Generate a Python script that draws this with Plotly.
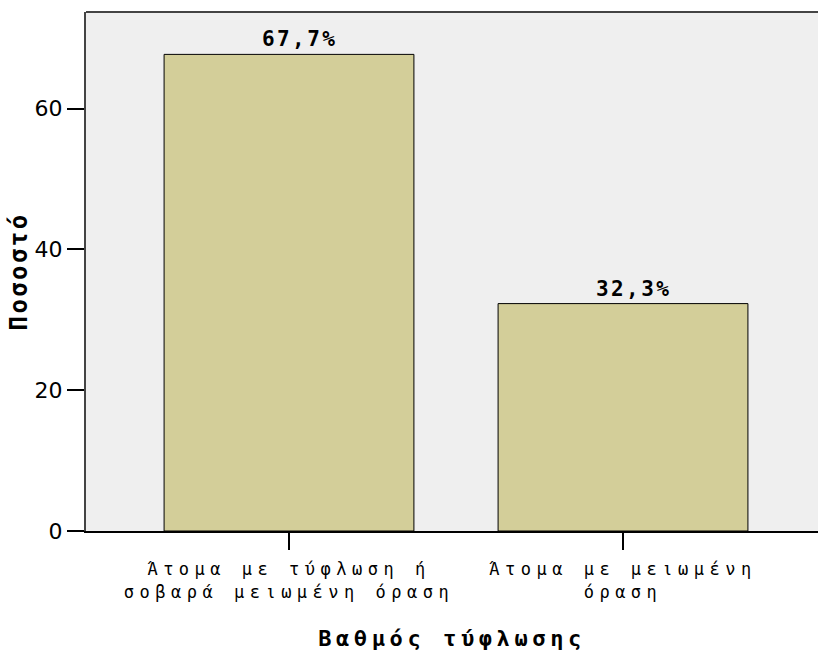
import plotly.graph_objects as go

# Percentages by degree of blindness
categories = ["Άτομα με τύφλωση ή<br>σοβαρά μειωμένη όραση", "Άτομα με μειωμένη<br>όραση"]
percentages = [67.7, 32.3]
y_ticks = [0, 20, 40, 60]

labels = [f"{v:.1f}%".replace(".", ",") for v in percentages]
positions = list(range(len(percentages)))

MONO = "DejaVu Sans Mono"

fig = go.Figure(
    go.Bar(
        x=positions,
        y=percentages,
        width=0.748,
        marker=dict(color="#D3CE99", line=dict(color="#000000", width=1)),
        hoverinfo="skip",
    )
)

# value labels above each bar
for xp, v, lab in zip(positions, percentages, labels):
    fig.add_annotation(
        x=xp, y=v, text=lab, showarrow=False,
        xanchor="center", yanchor="bottom", xshift=11, yshift=1,
        font=dict(family=MONO, size=21, color="#000000", weight="bold"),
    )

fig.update_layout(
    width=818,
    height=651,
    margin=dict(l=86, r=0, t=12, b=120),
    paper_bgcolor="#FFFFFF",
    plot_bgcolor="#EFEFEF",
    showlegend=False,
    xaxis=dict(
        range=[-0.6078, 1.5838],
        tickvals=positions,
        ticktext=categories,
        ticks="outside",
        ticklen=17,
        tickwidth=2,
        tickcolor="#000000",
        ticklabelstandoff=5,
        showline=True,
        linecolor="#000000",
        linewidth=2,
        showgrid=False,
        zeroline=False,
        tickfont=dict(family=MONO, size=17, color="#000000"),
        title=dict(
            text="Βαθμός τύφλωσης",
            font=dict(family=MONO, size=22, color="#000000", weight="bold"),
            standoff=33,
        ),
    ),
    yaxis=dict(
        range=[0, 73.72],
        tickvals=y_ticks,
        ticks="outside",
        ticklen=17,
        tickwidth=2,
        tickcolor="#000000",
        showline=True,
        linecolor="#444444",
        linewidth=2,
        showgrid=False,
        zeroline=False,
        tickfont=dict(family="DejaVu Sans", size=22, color="#000000"),
        title=dict(
            text="Ποσοστό",
            font=dict(family=MONO, size=24, color="#000000", weight="bold"),
            standoff=0,
        ),
    ),
    shapes=[
        dict(type="line", xref="paper", yref="paper", x0=0, x1=1, y0=1, y1=1,
             line=dict(color="#444444", width=2)),
    ],
)

# Wider letter spacing for the monospace labels
css = """
var s = document.createElement('style');
s.textContent = '.xtick text{letter-spacing:5.5px}' +
  ' .annotation-text{letter-spacing:2.4px}' +
  ' .xtitle{letter-spacing:4.6px}' +
  ' .ytitle{letter-spacing:2.4px}';
document.head.appendChild(s);
"""

fig.write_html("out.html", post_script=css)
